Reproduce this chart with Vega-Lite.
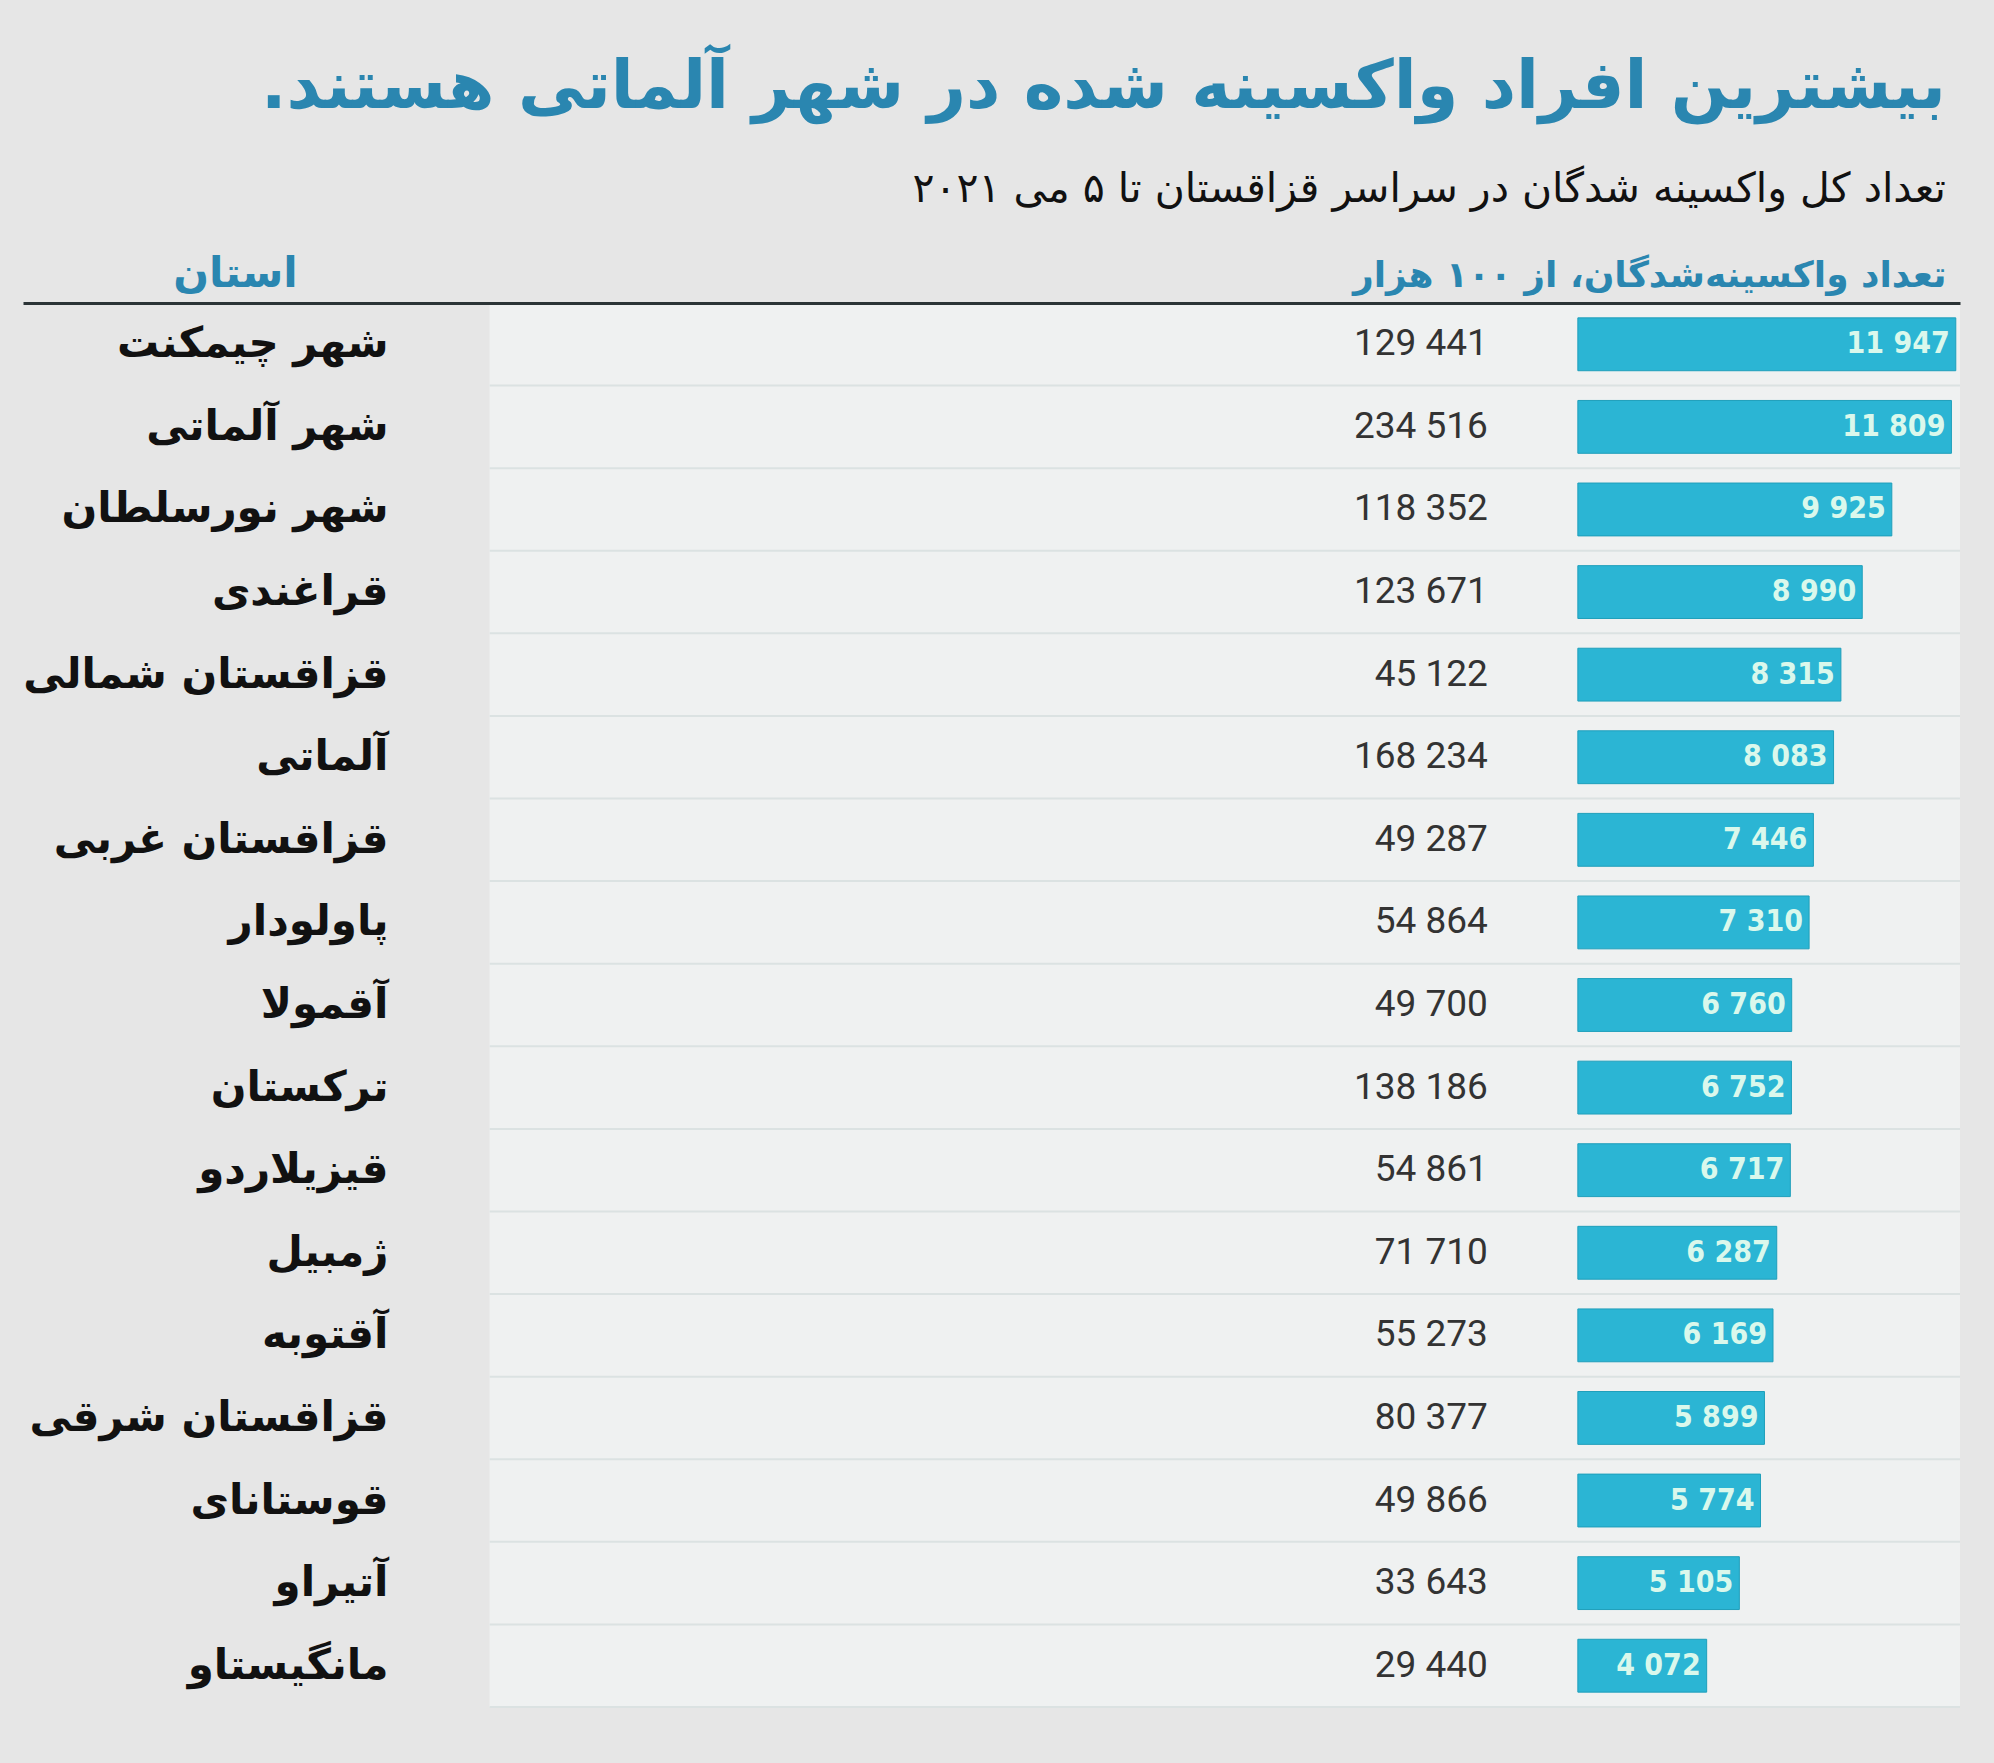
{
  "$schema": "https://vega.github.io/schema/vega-lite/v6.json",
  "width": 1937,
  "height": 1404,
  "autosize": {"type": "none"},
  "padding": {"left": 23, "top": 303, "right": 34, "bottom": 56},
  "background": "#e6e6e6",
  "title": {
    "text": "بیشترین افراد واکسینه شده در شهر آلماتی هستند.‏",
    "subtitle": "تعداد کل واکسینه شدگان در سراسر قزاقستان تا ۵ می ۲۰۲۱",
    "anchor": "end",
    "frame": "group",
    "dx": -14,
    "font": "DejaVu Sans",
    "fontSize": 67,
    "fontWeight": "bold",
    "color": "#2a86b0",
    "subtitleFont": "DejaVu Sans",
    "subtitleFontSize": 41,
    "subtitleColor": "#111111",
    "subtitlePadding": 48,
    "offset": 41
  },
  "config": {
    "view": {"fill": "#eff1f1", "stroke": null},
    "locale": {"number": {"decimal": ".", "thousands": " ", "grouping": [3], "currency": ["", ""]}}
  },
  "data": {
    "values": [
      {"province": "شهر چیمکنت", "pop": 129441, "vacc": 11947},
      {"province": "شهر آلماتی", "pop": 234516, "vacc": 11809},
      {"province": "شهر نورسلطان", "pop": 118352, "vacc": 9925},
      {"province": "قراغندی", "pop": 123671, "vacc": 8990},
      {"province": "قزاقستان شمالی", "pop": 45122, "vacc": 8315},
      {"province": "آلماتی", "pop": 168234, "vacc": 8083},
      {"province": "قزاقستان غربی", "pop": 49287, "vacc": 7446},
      {"province": "پاولودار", "pop": 54864, "vacc": 7310},
      {"province": "آقمولا", "pop": 49700, "vacc": 6760},
      {"province": "ترکستان", "pop": 138186, "vacc": 6752},
      {"province": "قیزیلاردو", "pop": 54861, "vacc": 6717},
      {"province": "ژمبیل", "pop": 71710, "vacc": 6287},
      {"province": "آقتوبه", "pop": 55273, "vacc": 6169},
      {"province": "قزاقستان شرقی", "pop": 80377, "vacc": 5899},
      {"province": "قوستانای", "pop": 49866, "vacc": 5774},
      {"province": "آتیراو", "pop": 33643, "vacc": 5105},
      {"province": "مانگیستاو", "pop": 29440, "vacc": 4072}
    ]
  },
  "layer": [
    {
      "data": {"values": [{}]},
      "mark": {"type": "rect", "fill": "#e6e6e6"},
      "encoding": {
        "x": {"datum": -49150},
        "x2": {"datum": -34400}
      }
    },
    {
      "mark": {"type": "rule", "stroke": "#dbe2e2", "strokeWidth": 2},
      "encoding": {
        "y": {"field": "province", "type": "nominal", "sort": null, "bandPosition": 1.2812},
        "x": {"datum": -34400},
        "x2": {"datum": 12080}
      }
    },
    {
      "mark": {"type": "bar", "color": "#2bb5d4", "stroke": "#1f9fbb", "strokeWidth": 1},
      "encoding": {
        "y": {
          "field": "province", "type": "nominal", "sort": null,
          "scale": {"paddingInner": 0.36, "paddingOuter": 0.18},
          "axis": {
            "title": "استان", "titleAngle": 0, "titleX": 212, "titleY": -17,
            "titleAlign": "center", "titleBaseline": "alphabetic",
            "titleFont": "DejaVu Sans", "titleFontSize": 42, "titleFontWeight": "bold", "titleColor": "#2a86b0",
            "labelPadding": -365, "labelAlign": "right", "labelBaseline": "middle",
            "labelFont": "DejaVu Sans", "labelFontSize": 42, "labelFontWeight": "bold", "labelColor": "#111111",
            "labelLimit": 0, "ticks": false, "tickSize": 0, "domain": false,
            "grid": false, "zindex": 1
          }
        },
        "x": {
          "field": "vacc", "type": "quantitative",
          "scale": {"domain": [-49150, 12080], "nice": false},
          "axis": {
            "orient": "top", "title": "تعداد واکسینه‌شدگان، از ۱۰۰ هزار",
            "titleX": 1923, "titleY": -17, "titleAlign": "right", "titleBaseline": "alphabetic",
            "titleFont": "DejaVu Sans", "titleFontSize": 36, "titleFontWeight": "bold", "titleColor": "#2a86b0",
            "labels": false, "ticks": false, "grid": false,
            "domainColor": "#2b3436", "domainWidth": 3, "zindex": 1
          }
        }
      }
    },
    {
      "mark": {"type": "text", "align": "right", "baseline": "middle", "dx": -6, "font": "DejaVu Sans Condensed", "fontSize": 30, "fontWeight": "bold", "color": "#daf8ec"},
      "encoding": {
        "y": {"field": "province", "type": "nominal", "sort": null},
        "x": {"field": "vacc", "type": "quantitative"},
        "text": {"field": "vacc", "type": "quantitative", "format": ",d"}
      }
    },
    {
      "mark": {"type": "text", "align": "right", "baseline": "middle", "dx": -90, "font": "Roboto", "fontSize": 37, "color": "#333333"},
      "encoding": {
        "y": {"field": "province", "type": "nominal", "sort": null},
        "x": {"datum": 0},
        "text": {"field": "pop", "type": "quantitative", "format": ",d"}
      }
    }
  ]
}
